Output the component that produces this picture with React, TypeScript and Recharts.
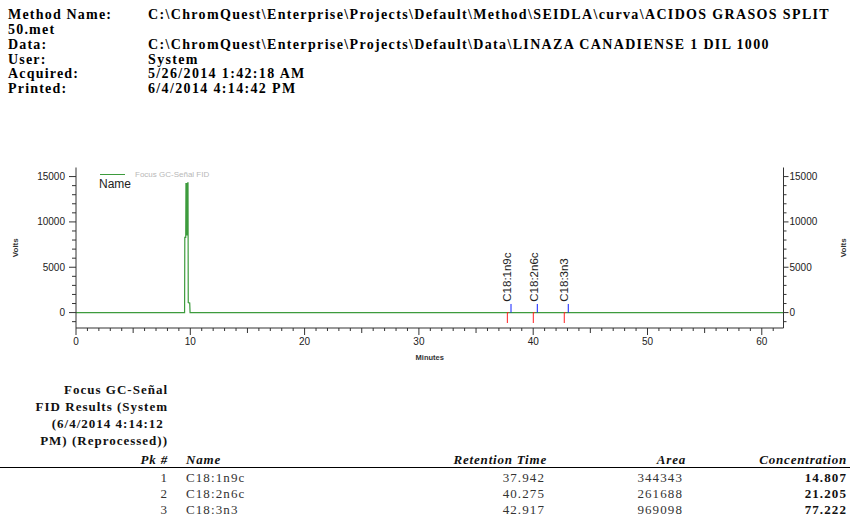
import React from 'react';
import { ComposedChart, Line, Scatter, XAxis, YAxis, ReferenceLine, Legend } from 'recharts';

// ---------- data ----------
const headerLabels = ['Method Name:', '50.met', 'Data:', 'User:', 'Acquired:', 'Printed:'];
const headerValues = [
  'C:\\ChromQuest\\Enterprise\\Projects\\Default\\Method\\SEIDLA\\curva\\ACIDOS GRASOS SPLIT',
  '',
  'C:\\ChromQuest\\Enterprise\\Projects\\Default\\Data\\LINAZA CANADIENSE 1 DIL 1000',
  'System',
  '5/26/2014 1:42:18 AM',
  '6/4/2014 4:14:42 PM',
];

const traceTimes = [0, 9.5, 9.52, 9.6, 9.62, 9.66, 9.7, 9.74, 9.78, 9.8, 9.82, 9.95, 9.98, 61.9];
const traceVolts = [0, 0, 8300, 8300, 14300, 8500, 14300, 8500, 14300, 14300, 1100, 1050, 0, 0];

const peakNames = ['C18:1n9c', 'C18:2n6c', 'C18:3n3'];
const retentionTimes = [37.942, 40.275, 42.917];
const peakStarts = [37.74, 40.01, 42.72];
const peakEnds = [38.06, 40.36, 43.07];
const peakAreas = [344343, 261688, 969098];
const peakConcentrations = ['14.807', '21.205', '77.222'];
const peakNumbers = [1, 2, 3];

const resultTitleLines = ['Focus GC-Señal', 'FID Results (System', '(6/4/2014 4:14:12 ', 'PM) (Reprocessed))'];
const columnHeaders = ['Pk #', 'Name', 'Retention Time', 'Area', 'Concentration'];

const xDomain = [0, 61.9];
const yDomain = [-1700, 16000];
const xTicks = [0, 1, 2, 3, 4, 5, 6, 7, 8, 9, 10, 11, 12, 13, 14, 15, 16, 17, 18, 19, 20, 21, 22, 23, 24, 25, 26, 27, 28, 29, 30,
  31, 32, 33, 34, 35, 36, 37, 38, 39, 40, 41, 42, 43, 44, 45, 46, 47, 48, 49, 50, 51, 52, 53, 54, 55, 56, 57, 58, 59, 60, 61];
const xLabeledTicks = [0, 10, 20, 30, 40, 50, 60];
const xMediumTicks = [5, 15, 25, 35, 45, 55];
const yTicks = [-1000, 0, 1000, 2000, 3000, 4000, 5000, 6000, 7000, 8000, 9000, 10000, 11000, 12000, 13000, 14000, 15000];
const yLabeledTicks = [0, 5000, 10000, 15000];

const traceData = traceTimes.map((t, i) => ({ t, v: traceVolts[i] }));
const labelData = peakNames.map((name, i) => ({ t: retentionTimes[i], v: 1200, name }));

// ---------- styles ----------
const GREEN = '#3d9b3d';
const AXIS = '#333333';
const SANS = "'Liberation Sans', Arial, sans-serif";
const SERIF = "'Liberation Serif', 'Times New Roman', serif";

function XTick(props: any) {
  const { x, y, payload } = props;
  const v = payload.value;
  const top = y - 7;
  const labeled = xLabeledTicks.includes(v);
  const len = labeled ? 7 : xMediumTicks.includes(v) ? 5 : 3;
  return (
    <g>
      <line x1={x} x2={x} y1={top} y2={top + len} stroke={AXIS} strokeWidth={1} />
      {labeled && (
        <text x={x} y={top + 17} textAnchor="middle" fontSize={10} fontFamily={SANS} fill="#222">
          {v}
        </text>
      )}
    </g>
  );
}

function LeftYTick(props: any) {
  const { x, y, payload } = props;
  const v = payload.value;
  const axisX = x + 7;
  const labeled = yLabeledTicks.includes(v);
  const len = labeled ? 7 : 4;
  return (
    <g>
      <line x1={axisX - len} x2={axisX} y1={y} y2={y} stroke={AXIS} strokeWidth={1} />
      {labeled && (
        <text x={axisX - 11} y={y} dy="0.35em" textAnchor="end" fontSize={10} fontFamily={SANS} fill="#222">
          {v}
        </text>
      )}
    </g>
  );
}

function RightYTick(props: any) {
  const { x, y, payload } = props;
  const v = payload.value;
  const axisX = x - 5;
  const labeled = yLabeledTicks.includes(v);
  const len = labeled ? 5 : 3;
  return (
    <g>
      <line x1={axisX} x2={axisX + len} y1={y} y2={y} stroke={AXIS} strokeWidth={1} />
      {labeled && (
        <text x={axisX + 6} y={y} dy="0.35em" textAnchor="start" fontSize={10} fontFamily={SANS} fill="#222">
          {v}
        </text>
      )}
    </g>
  );
}

function VoltsLabel(props: any) {
  const { viewBox, side } = props;
  const cy = viewBox.y + viewBox.height / 2;
  const cx = side === 'left' ? viewBox.x - 1 : viewBox.x + viewBox.width;
  return (
    <text
      x={cx}
      y={cy}
      transform={`rotate(-90 ${cx} ${cy})`}
      textAnchor="middle"
      dominantBaseline="central"
      fontSize={8}
      fontWeight="bold"
      fontFamily="'Liberation Sans Narrow', 'Liberation Sans', sans-serif"
      fill="#333"
    >
      Volts
    </text>
  );
}

function MinutesLabel(props: any) {
  const { viewBox } = props;
  const cx = viewBox.x + viewBox.width / 2;
  return (
    <text
      x={cx}
      y={viewBox.y + 32}
      textAnchor="middle"
      fontSize={7.5}
      fontWeight="bold"
      fontFamily="'Liberation Sans Narrow', 'Liberation Sans', sans-serif"
      fill="#333"
    >
      Minutes
    </text>
  );
}

function PeakLabel(props: any) {
  const { cx, cy, payload } = props;
  return (
    <text
      x={cx}
      y={cy}
      dy={1.5}
      transform={`rotate(-90 ${cx} ${cy})`}
      textAnchor="start"
      fontSize={11.5}
      fontFamily={SANS}
      fill="#222"
    >
      {payload.name}
    </text>
  );
}

function LegendContent() {
  return (
    <div style={{ position: 'relative', width: 200, height: 30, fontFamily: SANS }}>
      <div style={{ position: 'absolute', left: 0, top: 5, width: 25, borderTop: `1.5px solid ${GREEN}` }} />
      <div style={{ position: 'absolute', left: 35, top: 0, fontSize: 8, color: '#b8b8b8', lineHeight: '11px', whiteSpace: 'nowrap' }}>
        Focus GC-Señal FID
      </div>
      <div style={{ position: 'absolute', left: -1, top: 8, fontSize: 12, color: '#222', lineHeight: '14px' }}>Name</div>
    </div>
  );
}

const headerCenters = [14.5, 29.5, 44.5, 59.5, 74, 88.5];
const titleCenters = [390, 407, 424, 441];
const colHeaderCenter = 460;
const rowCenters = [478, 494, 510];

export default function App() {
  return (
    <div style={{ position: 'absolute', left: 0, top: 0, width: 850, height: 521, background: '#fff', overflow: 'hidden' }}>
      {/* header block */}
      {headerLabels.map((lab, i) => (
        <React.Fragment key={lab}>
          <div
            style={{
              position: 'absolute', left: 8, top: headerCenters[i] - 8, height: 16, lineHeight: '16px',
              fontFamily: SERIF, fontWeight: 'bold', fontSize: 14, letterSpacing: 1.2, whiteSpace: 'pre', color: '#000',
            }}
          >
            {lab}
          </div>
          {headerValues[i] && (
            <div
              style={{
                position: 'absolute', left: 148, top: headerCenters[i] - 8, height: 16, lineHeight: '16px',
                fontFamily: SERIF, fontWeight: 'bold', fontSize: 14, letterSpacing: 1.35, whiteSpace: 'pre', color: '#000',
              }}
            >
              {headerValues[i]}
            </div>
          )}
        </React.Fragment>
      ))}

      {/* chart */}
      <div style={{ position: 'absolute', left: 0, top: 150 }}>
        <ComposedChart width={850} height={220} margin={{ top: 17.5, right: 6.5, bottom: 12, left: 16 }}>
          <XAxis
            xAxisId="bottom"
            dataKey="t"
            type="number"
            domain={xDomain}
            ticks={xTicks}
            interval={0}
            tickSize={7}
            tickMargin={0}
            tickLine={false}
            tick={<XTick />}
            axisLine={{ stroke: AXIS }}
            height={30}
            allowDataOverflow
            label={<MinutesLabel />}
          />
          <XAxis xAxisId="top" orientation="top" type="number" domain={xDomain} height={0} tick={false} tickLine={false} axisLine={{ stroke: AXIS }} />
          <YAxis
            yAxisId="left"
            type="number"
            domain={yDomain}
            ticks={yTicks}
            interval={0}
            tickSize={7}
            tickMargin={0}
            tickLine={false}
            tick={<LeftYTick />}
            axisLine={{ stroke: AXIS }}
            width={60}
            allowDataOverflow
            label={<VoltsLabel side="left" />}
          />
          <YAxis
            yAxisId="right"
            orientation="right"
            type="number"
            domain={yDomain}
            ticks={yTicks}
            interval={0}
            tickSize={5}
            tickMargin={0}
            tickLine={false}
            tick={<RightYTick />}
            axisLine={{ stroke: AXIS }}
            width={60}
            allowDataOverflow
            label={<VoltsLabel side="right" />}
          />
          <Legend
            layout="horizontal"
            verticalAlign="middle"
            align="center"
            content={<LegendContent />}
            wrapperStyle={{ left: 100, top: 18.5, width: 200, height: 30 }}
          />
          <Line
            xAxisId="bottom"
            yAxisId="left"
            data={traceData}
            dataKey="v"
            type="linear"
            stroke={GREEN}
            strokeWidth={1.2}
            dot={false}
            isAnimationActive={false}
            name="Focus GC-Señal FID"
          />
          {peakStarts.map((s) => (
            <ReferenceLine
              key={`s${s}`}
              xAxisId="bottom"
              yAxisId="left"
              segment={[{ x: s, y: 0 }, { x: s, y: -1150 }]}
              stroke="#ff2020"
              strokeWidth={1}
            />
          ))}
          {peakStarts.map((s) => (
            <ReferenceLine
              key={`h${s}`}
              xAxisId="bottom"
              yAxisId="left"
              segment={[{ x: s, y: 0 }, { x: s + 0.12, y: 0 }]}
              stroke="#ff2020"
              strokeWidth={1}
            />
          ))}
          {peakEnds.map((e) => (
            <ReferenceLine
              key={`e${e}`}
              xAxisId="bottom"
              yAxisId="left"
              segment={[{ x: e, y: 0 }, { x: e, y: 950 }]}
              stroke="#1020ff"
              strokeWidth={1}
            />
          ))}
          <Scatter
            xAxisId="bottom"
            yAxisId="left"
            data={labelData}
            dataKey="v"
            shape={<PeakLabel />}
            isAnimationActive={false}
            legendType="none"
          />
        </ComposedChart>
      </div>

      {/* results block */}
      {resultTitleLines.map((line, i) => (
        <div
          key={line}
          style={{
            position: 'absolute', right: 850 - 168, top: titleCenters[i] - 8, height: 16, lineHeight: '16px',
            fontFamily: SERIF, fontWeight: 'bold', fontSize: 13, letterSpacing: 1, whiteSpace: 'pre', color: '#111', textAlign: 'right',
          }}
        >
          {line}
        </div>
      ))}
      {columnHeaders.map((h, i) => {
        const rightEdges = [168, 0, 547, 686, 847];
        const style: React.CSSProperties = {
          position: 'absolute', top: colHeaderCenter - 8, height: 16, lineHeight: '16px',
          fontFamily: SERIF, fontWeight: 'bold', fontStyle: 'italic', fontSize: 13, letterSpacing: 0.8, whiteSpace: 'pre', color: '#111',
        };
        if (i === 1) style.left = 186;
        else style.right = 850 - rightEdges[i];
        return (
          <div key={h} style={style}>
            {h}
          </div>
        );
      })}
      <div style={{ position: 'absolute', left: 0, top: 467, width: 850, height: 0, borderTop: '1.5px solid #000' }} />
      {peakNames.map((name, i) => {
        const base: React.CSSProperties = {
          position: 'absolute', top: rowCenters[i] - 8, height: 16, lineHeight: '16px',
          fontFamily: SERIF, fontSize: 13, letterSpacing: 1.1, whiteSpace: 'pre', color: '#333',
        };
        return (
          <React.Fragment key={name}>
            <div style={{ ...base, right: 850 - 168 }}>{peakNumbers[i]}</div>
            <div style={{ ...base, left: 186 }}>{name}</div>
            <div style={{ ...base, right: 850 - 545 }}>{retentionTimes[i].toFixed(3)}</div>
            <div style={{ ...base, right: 850 - 683 }}>{peakAreas[i]}</div>
            <div style={{ ...base, right: 850 - 847, fontWeight: 'bold', color: '#111' }}>{peakConcentrations[i]}</div>
          </React.Fragment>
        );
      })}
    </div>
  );
}
